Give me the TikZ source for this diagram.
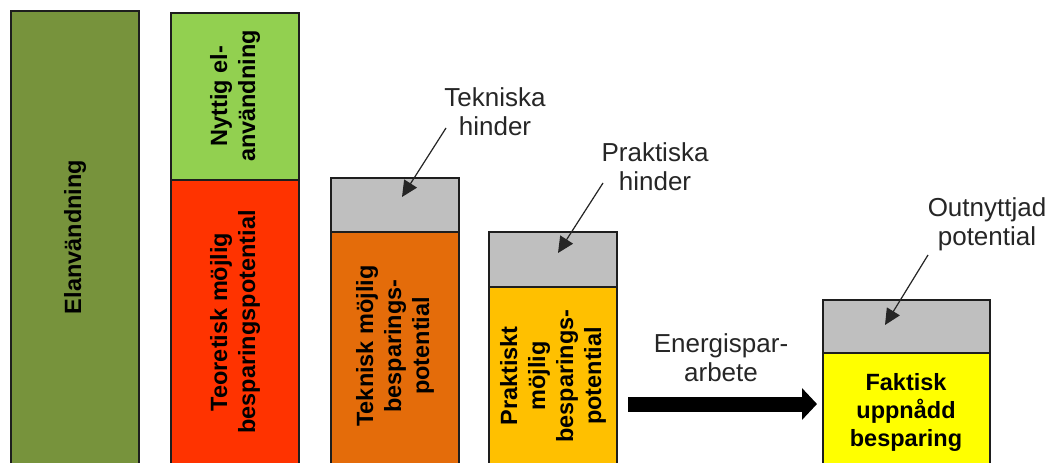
\documentclass[tikz,border=0pt]{standalone}
\usepackage{fontspec}
\setmainfont{Liberation Sans}
\usetikzlibrary{arrows.meta}
\definecolor{cEdge}{HTML}{1E1E1E}
\definecolor{cEl}{HTML}{77933C}
\definecolor{cNy}{HTML}{92D050}
\definecolor{cTe}{HTML}{FF3300}
\definecolor{cTk}{HTML}{E46C0A}
\definecolor{cPr}{HTML}{FFC000}
\definecolor{cFa}{HTML}{FFFF00}
\definecolor{cGr}{HTML}{BFBFBF}
\begin{document}
\begin{tikzpicture}[x=1pt,y=-1pt,
  bar/.style={draw=cEdge, line width=1.3pt, inner sep=0pt, outer sep=0pt, anchor=north west, minimum width=128pt},
  btxt/.style={font=\fontsize{23.5}{28}\selectfont\bfseries, align=center, inner sep=0pt, rotate=90},
  htxt/.style={font=\fontsize{23.5}{28}\selectfont\bfseries, align=center, inner sep=0pt, anchor=north},
  lbl/.style={font=\fontsize{26}{29}\selectfont, text=black!85, align=center, inner sep=0pt, anchor=north},
  ptr/.style={line width=1.2pt, draw=black!85, fill=black!85, -{Triangle[length=16pt,width=15pt]}},
  bigarrow/.style={line width=15pt, draw=black, -{Triangle[length=15pt,width=31pt]}}
]
\clip (0,0) rectangle (1050,463);
\fill[white] (0,0) rectangle (1050,463);
% bars
\node[bar, fill=cEl, minimum height=460pt] (b1) at (11,11) {};
\node[bar, fill=cNy, minimum height=167pt] (b2a) at (171,13) {};
\node[bar, fill=cTe, minimum height=290pt] (b2b) at (171,180) {};
\node[bar, fill=cGr, minimum height=54pt] (b3a) at (331,178) {};
\node[bar, fill=cTk, minimum height=240pt] (b3b) at (331,232) {};
\node[bar, fill=cGr, minimum height=55pt] (b4a) at (489,232) {};
\node[bar, fill=cPr, minimum height=185pt] (b4b) at (489,287) {};
\node[bar, fill=cGr, minimum height=53pt, minimum width=167pt] (b5a) at (823,300) {};
\node[bar, fill=cFa, minimum height=120pt, minimum width=167pt] (b5b) at (823,353) {};
% bar texts
\node[btxt] (t1) at (75,237) {Elanvändning};
\node[btxt] (t2a) at (235,96) {Nyttig el-\\användning};
\node[btxt] (t2b) at (235,322) {Teoretisk möjlig\\besparingspotential};
\node[btxt] (t3) at (395,346) {Teknisk möjlig\\besparings-\\potential};
\node[btxt] (t4) at (553,376) {Praktiskt\\möjlig\\besparings-\\potential};
\node[htxt] (t5) at (906,373) {Faktisk\\uppnådd\\besparing};
% labels
\node[lbl] (l1) at (495,87) {Tekniska\\hinder};
\node[lbl] (l2) at (655,142) {Praktiska\\hinder};
\node[lbl] (l3) at (987,197) {Outnyttjad\\potential};
\node[lbl] (l4) at (721,333) {Energispar-\\arbete};
% pointer arrows
\coordinate (p1s) at (446,128); \coordinate (p1e) at (402,197);
\coordinate (p2s) at (603,183); \coordinate (p2e) at (558,253);
\coordinate (p3s) at (928,255); \coordinate (p3e) at (885,325);
\draw[ptr] (p1s) -- (p1e);
\draw[ptr] (p2s) -- (p2e);
\draw[ptr] (p3s) -- (p3e);
% big arrow
\coordinate (a0) at (628,404);
\coordinate (a1) at (817,404);
\draw[bigarrow] (a0) -- (a1);
\end{tikzpicture}
\end{document}
